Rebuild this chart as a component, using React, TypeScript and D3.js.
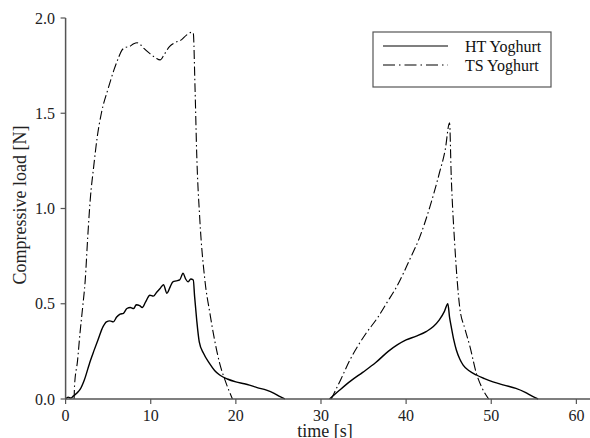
import React from "react";
import * as d3 from "d3";

const htTime1 = [0, 0.3, 0.6, 0.9, 1.3, 1.7, 2.2, 2.9, 3.3, 3.8, 4.4, 4.8, 5.2, 5.6, 6.0, 6.4, 6.8, 7.2, 7.6, 8.0, 8.3, 8.7, 9.0, 9.4, 9.9, 10.3, 10.7, 11.1, 11.5, 11.9, 12.3, 12.6, 13.0, 13.4, 13.8, 14.1, 14.4, 14.7, 15.0, 15.15, 15.4, 15.7, 16.2, 16.9, 17.5, 18.1, 19.0, 20, 21, 21.6, 22.5, 23.6, 24.5, 25.2, 25.75];
const htLoad1 = [0, 0.01, 0.005, 0.015, 0.03, 0.05, 0.1, 0.2, 0.25, 0.31, 0.38, 0.405, 0.41, 0.405, 0.43, 0.445, 0.45, 0.475, 0.48, 0.475, 0.495, 0.49, 0.48, 0.51, 0.545, 0.54, 0.56, 0.58, 0.6, 0.555, 0.59, 0.615, 0.62, 0.625, 0.66, 0.63, 0.615, 0.63, 0.625, 0.54, 0.415, 0.3, 0.24, 0.187, 0.15, 0.126, 0.105, 0.09, 0.08, 0.073, 0.06, 0.047, 0.03, 0.012, 0];

const htTime2 = [31.0, 31.5, 32.2, 33.5, 34.9, 36.4, 37.9, 39.0, 40, 41.2, 42.4, 43.2, 43.9, 44.5, 44.9, 45.1, 45.3, 45.6, 45.9, 46.3, 46.7, 47.4, 48.25, 49.2, 50.2, 51.5, 52.9, 54, 54.8, 55.5];
const htLoad2 = [0, 0.02, 0.047, 0.095, 0.14, 0.19, 0.25, 0.285, 0.31, 0.33, 0.355, 0.38, 0.415, 0.46, 0.5, 0.43, 0.38, 0.31, 0.257, 0.21, 0.178, 0.148, 0.126, 0.107, 0.09, 0.073, 0.056, 0.035, 0.015, 0];

const tsTime1 = [1.0, 1.05, 1.4, 1.7, 2.0, 2.3, 2.6, 2.9, 3.3, 3.7, 4.2, 5.0, 5.7, 6.2, 6.6, 7.0, 7.5, 8.0, 8.4, 8.8, 9.2, 10.0, 10.6, 11.1, 11.6, 12.2, 12.8, 13.6, 14.2, 14.8, 15.0, 15.2, 15.4, 15.77, 16.36, 16.95, 17.5, 18.1, 18.8, 19.6];
const tsLoad1 = [0, 0.07, 0.2, 0.35, 0.48, 0.62, 0.85, 1.05, 1.22, 1.37, 1.5, 1.63, 1.73, 1.79, 1.83, 1.845, 1.85, 1.865, 1.87, 1.86, 1.84, 1.81, 1.79, 1.78, 1.81, 1.85, 1.87, 1.885, 1.91, 1.925, 1.92, 1.64, 1.29, 0.94, 0.625, 0.45, 0.31, 0.187, 0.09, 0];

const tsTime2 = [31.2, 32.3, 33.4, 35.3, 36.7, 37.8, 38.9, 40.4, 41.6, 42.8, 43.9, 44.6, 45.1, 45.3, 45.7, 46.3, 46.9, 47.5, 48.25, 48.9, 49.7];
const tsLoad2 = [0, 0.1, 0.205, 0.345, 0.43, 0.51, 0.59, 0.73, 0.85, 1.01, 1.185, 1.31, 1.45, 1.17, 0.82, 0.48, 0.37, 0.275, 0.135, 0.06, 0];

const xTicks = [0, 10, 20, 30, 40, 50, 60];
const yTicks = [0, 0.5, 1.0, 1.5, 2.0];
const seriesNames = ["HT Yoghurt", "TS Yoghurt"];

const W = 590;
const H = 438;
const FONT = "Liberation Serif, Times New Roman, Times, DejaVu Serif, serif";
const AXIS = "#555";
const DASH = "9,3,1.5,3";
const txt = { fontFamily: FONT };

export default function App() {
  const x = d3.scaleLinear().domain([0, 61.6]).range([65.6, 590]);
  const y = d3.scaleLinear().domain([0, 2]).range([399, 18]);
  const line = d3
    .line<[number, number]>()
    .x((d) => x(d[0]))
    .y((d) => y(d[1]))
    .curve(d3.curveMonotoneX);
  const zip = (t: number[], v: number[]) => t.map((ti, i) => [ti, v[i]] as [number, number]);

  const ht = [zip(htTime1, htLoad1), zip(htTime2, htLoad2)];
  const ts = [zip(tsTime1, tsLoad1), zip(tsTime2, tsLoad2)];

  return (
    <svg width={W} height={H} style={{ position: "absolute", left: 0, top: 0, background: "#fff" }}>
      {ht.map((d, i) => (
        <path key={"h" + i} d={line(d) || ""} fill="none" stroke="#000" strokeWidth={1.4} strokeLinejoin="round" />
      ))}
      {ts.map((d, i) => (
        <path key={"t" + i} d={line(d) || ""} fill="none" stroke="#000" strokeWidth={1.1} strokeDasharray={DASH} strokeLinejoin="round" />
      ))}
      <line x1={x(0)} x2={590} y1={y(0)} y2={y(0)} stroke={AXIS} strokeWidth={1.5} />
      <line x1={x(0)} x2={x(0)} y1={y(2)} y2={y(0)} stroke={AXIS} strokeWidth={1.5} />
      {xTicks.map((t) => (
        <g key={"xt" + t}>
          <line x1={x(t)} x2={x(t)} y1={y(0)} y2={y(0) + 5} stroke={AXIS} strokeWidth={1.2} />
          <text x={x(t)} y={421} textAnchor="middle" fontSize={16} fill="#222" style={txt}>
            {t}
          </text>
        </g>
      ))}
      {yTicks.map((t) => (
        <g key={"yt" + t}>
          <line x1={x(0) - 5} x2={x(0)} y1={y(t)} y2={y(t)} stroke={AXIS} strokeWidth={1.2} />
          <text x={55} y={y(t)} dy="0.35em" textAnchor="end" fontSize={16} fill="#222" style={txt}>
            {t.toFixed(1)}
          </text>
        </g>
      ))}
      <text x={325} y={437} textAnchor="middle" fontSize={18} fill="#222" style={txt}>
        time [s]
      </text>
      <text transform="translate(26,205) rotate(-90)" textAnchor="middle" fontSize={18} fill="#222" style={txt}>
        Compressive load [N]
      </text>
      <rect x={373} y={32} width={178} height={55} fill="#fff" stroke={AXIS} strokeWidth={1.2} />
      <line x1={383} x2={448} y1={46} y2={46} stroke="#000" strokeWidth={1.2} />
      <line x1={383} x2={448} y1={65} y2={65} stroke="#000" strokeWidth={1.1} strokeDasharray="12,4,1.5,4" />
      <text x={465} y={46} dy="0.35em" fontSize={16} fill="#111" style={txt}>
        {seriesNames[0]}
      </text>
      <text x={465} y={65} dy="0.35em" fontSize={16} fill="#111" style={txt}>
        {seriesNames[1]}
      </text>
    </svg>
  );
}
